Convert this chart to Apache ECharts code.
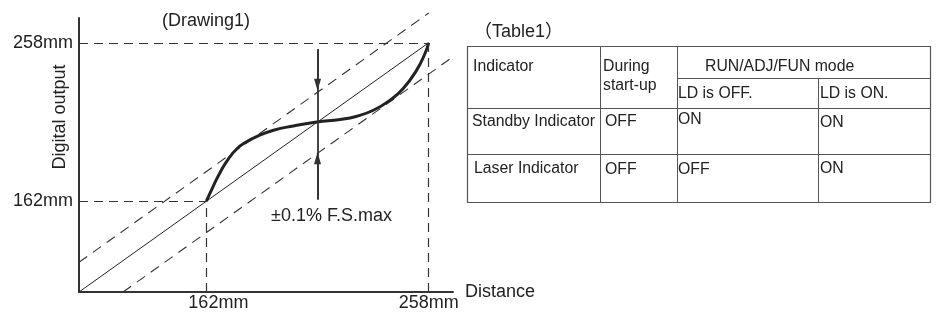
<!DOCTYPE html>
<html>
<head>
<meta charset="utf-8">
<title>Drawing1 / Table1</title>
<script src="https://cdn.jsdelivr.net/npm/echarts@6/dist/echarts.min.js"></script>
<style>
  html, body { margin: 0; padding: 0; background: #fff; }
  #chart { width: 940px; height: 317px; }
</style>
</head>
<body>
<div id="chart"></div>
<script>
/* ---------- 数据 ---------- */
// 坐标轴刻度 [mm]
const tickValues = [162, 258]
// 理想直线
const idealLine = [[107, 107], [258, 258]]
// ±0.1% F.S. 上下限（虚线）
const upperLimit = [[107, 125], [258, 276]]
const lowerLimit = [[126, 107], [272.5, 253.5]]
// 实际输出曲线
const outputCurve = [
  [162, 162], [165.1, 171.5], [168, 179.6], [171.6, 187.8], [175.2, 193.8],
  [178.8, 197.5], [183.9, 201.3], [191, 205], [199.6, 207.6], [209.7, 210],
  [219.8, 211.5], [227, 213.5], [234.1, 217.1], [241.3, 223.2], [247, 230.3],
  [252.8, 241.4], [256.4, 251.5], [258, 258]
]
// 辅助虚线（起点, 终点）
const guideLines = [
  [[107, 258], [258, 258]],
  [[107, 162], [162, 162]],
  [[162, 107], [162, 162]],
  [[258, 107], [258, 258]]
]
// 误差箭头
const arrowX = 210
const arrowSpan = [163, 254]
const arrowHeads = [[254, 232.5], [163, 188]]

// 文字
const yAxisName = 'Digital output'
const noteText = '±0.1% F.S.max'
const tableTitle = '（Table1）'
const tableHeader = ['Indicator', 'During', 'start-up', 'RUN/ADJ/FUN mode']
const tableSubHeader = ['LD is OFF.', 'LD is ON.']
const tableRows = [
  ['Standby Indicator', 'OFF', 'ON', 'ON'],
  ['Laser Indicator', 'OFF', 'OFF', 'ON']
]

/* ---------- 样式 ---------- */
const FONT = '"Liberation Sans", Arial, "Noto Sans CJK JP", sans-serif'
const INK = '#222'
const LINE = '#333'

/* ---------- 表格与标注（graphic） ---------- */
const colX = [467, 600, 677, 818, 930]
const rowY = [46, 78, 108, 154, 202]

function hLine(y, x1, x2) {
  return { type: 'line', shape: { x1: x1, y1: y + 0.5, x2: x2, y2: y + 0.5 }, style: { stroke: '#555', lineWidth: 1 }, silent: true }
}
function vLine(x, y1, y2) {
  return { type: 'line', shape: { x1: x + 0.5, y1: y1, x2: x + 0.5, y2: y2 }, style: { stroke: '#555', lineWidth: 1 }, silent: true }
}
function cellText(text, x, y) {
  return {
    type: 'text', x: x, y: y, silent: true,
    style: { text: text, fill: INK, font: '15.8px ' + FONT, textAlign: 'left', textVerticalAlign: 'middle' }
  }
}

function buildGraphic() {
  const els = []
  els.push({
    type: 'rect', silent: true,
    shape: { x: colX[0] + 0.5, y: rowY[0] + 0.5, width: colX[4] - colX[0], height: rowY[4] - rowY[0] },
    style: { fill: 'none', stroke: '#555', lineWidth: 1.2 }
  })
  els.push(vLine(colX[1], rowY[0], rowY[4]))
  els.push(vLine(colX[2], rowY[0], rowY[4]))
  els.push(vLine(colX[3], rowY[1], rowY[4]))
  els.push(hLine(rowY[1], colX[2], colX[4]))
  els.push(hLine(rowY[2], colX[0], colX[4]))
  els.push(hLine(rowY[3], colX[0], colX[4]))

  // 表头
  els.push(cellText(tableHeader[0], 473, 67))
  els.push(cellText(tableHeader[1], 603, 67))
  els.push(cellText(tableHeader[2], 603, 86))
  els.push(cellText(tableHeader[3], 705, 67))
  els.push(cellText(tableSubHeader[0], 678, 94))
  els.push(cellText(tableSubHeader[1], 820, 94))

  // 数据行
  const textX = [[472, 605, 678, 820], [474, 605, 678, 820]]
  const textY = [[121.5, 122, 120, 123], [168.5, 169.5, 169.5, 169]]
  tableRows.forEach((row, r) => {
    row.forEach((t, c) => {
      els.push(cellText(t, textX[r][c], textY[r][c]))
    })
  })

  // y 轴名称（竖排）
  els.push({
    type: 'text', x: 60, y: 117, rotation: Math.PI / 2, silent: true,
    style: { text: yAxisName, fill: INK, font: '18px ' + FONT, textAlign: 'center', textVerticalAlign: 'middle' }
  })

  // ±0.1% 标注
  els.push({
    type: 'text', x: 271, y: 216, silent: true,
    style: { text: noteText, fill: INK, font: '18px ' + FONT, textAlign: 'left', textVerticalAlign: 'middle' }
  })
  return els
}

/* ---------- 图表 ---------- */
const myChart = echarts.init(document.getElementById('chart'), null, { renderer: 'canvas' })

const dashStyle = { color: LINE, width: 1.1, type: [10, 7] }

myChart.setOption({
  animation: false,
  backgroundColor: '#fff',
  title: [
    {
      text: '(Drawing1)', left: 162, top: 12, padding: 0,
      textStyle: { fontFamily: FONT, fontSize: 18, fontWeight: 'normal', color: INK }
    },
    {
      text: tableTitle, left: 474, top: 23, padding: 0,
      textStyle: { fontFamily: FONT, fontSize: 18, fontWeight: 'normal', color: INK }
    }
  ],
  grid: { left: 79, right: 487, top: 18, bottom: 25, outerBoundsMode: 'none' },
  xAxis: {
    type: 'value',
    min: 107,
    max: 268.5,
    name: 'Distance',
    nameLocation: 'end',
    nameGap: 12,
    nameTextStyle: { fontFamily: FONT, fontSize: 18, color: INK },
    axisLine: { lineStyle: { color: LINE, width: 2 } },
    axisTick: { show: false },
    splitLine: { show: false },
    axisLabel: {
      customValues: tickValues,
      margin: 2,
      fontFamily: FONT,
      fontSize: 18,
      color: INK,
      formatter: v => (v === 162 ? '{shift|162mm}' : v + 'mm'),
      rich: { shift: { fontFamily: FONT, fontSize: 18, color: INK, padding: [0, 0, 0, 24] } }
    }
  },
  yAxis: {
    type: 'value',
    min: 107,
    max: 273,
    axisLine: { show: true, lineStyle: { color: LINE, width: 2 } },
    axisTick: { show: false },
    splitLine: { show: false },
    axisLabel: {
      customValues: tickValues,
      margin: 6,
      fontFamily: FONT,
      fontSize: 18,
      color: INK,
      formatter: '{value}mm'
    }
  },
  graphic: buildGraphic(),
  series: [
    {
      name: 'ideal',
      type: 'line',
      data: idealLine,
      symbol: 'none',
      silent: true,
      clip: false,
      lineStyle: { color: INK, width: 1 },
      /* 辅助虚线 */
      markLine: {
        silent: true,
        symbol: 'none',
        label: { show: false },
        lineStyle: { color: LINE, width: 1.2, type: [9, 6] },
        data: guideLines.map(seg => [{ coord: seg[0] }, { coord: seg[1] }])
      }
    },
    {
      name: 'upper',
      type: 'line',
      data: upperLimit,
      symbol: 'none',
      silent: true,
      clip: false,
      lineStyle: dashStyle
    },
    {
      name: 'lower',
      type: 'line',
      data: lowerLimit,
      symbol: 'none',
      silent: true,
      clip: false,
      lineStyle: dashStyle
    },
    {
      name: 'output',
      type: 'line',
      data: outputCurve,
      symbol: 'none',
      smooth: 0.5,
      silent: true,
      clip: false,
      lineStyle: { color: INK, width: 3 },
      /* 误差箭头 */
      markLine: {
        silent: true,
        label: { show: false },
        symbolSize: [7, 12],
        lineStyle: { color: '#333', width: 1.8, type: 'solid' },
        itemStyle: { color: '#333' },
        data: [
          [{ coord: [arrowX, arrowSpan[0]], symbol: 'none' }, { coord: [arrowX, arrowSpan[1]], symbol: 'none' }],
          [{ coord: [arrowX, arrowHeads[0][0]], symbol: 'none' }, { coord: [arrowX, arrowHeads[0][1]], symbol: 'triangle' }],
          [{ coord: [arrowX, arrowHeads[1][0]], symbol: 'none' }, { coord: [arrowX, arrowHeads[1][1]], symbol: 'triangle' }]
        ]
      }
    }
  ]
})
</script>
</body>
</html>
